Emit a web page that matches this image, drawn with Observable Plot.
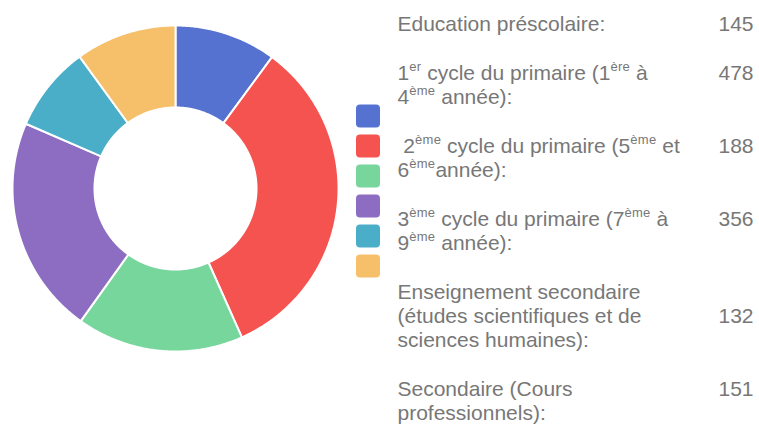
<!DOCTYPE html>
<html>
<head>
<meta charset="utf-8">
<script src="https://cdn.jsdelivr.net/npm/d3@7"></script>
<script src="https://cdn.jsdelivr.net/npm/@observablehq/plot@0.6"></script>
<style>
  html, body { margin: 0; padding: 0; background: #fff; }
  #wrap { position: relative; width: 759px; height: 425px; overflow: hidden;
          font-family: Arial, "Liberation Sans", Helvetica, sans-serif; }
  #donut { position: absolute; left: 0; top: 0; }
  #legend { position: absolute; left: 356px; top: 99.2px; }
  #table { position: absolute; left: 397.5px; top: 11.7px; color: #777;
           font-size: 21px; line-height: 24px; }
  .row { display: flex; margin-bottom: 25px; }
  .label { width: 321px; white-space: nowrap; }
  .value { white-space: nowrap; }
  .value.mid { align-self: center; }
  sup { font-size: 13px; line-height: 0; vertical-align: 9px; letter-spacing: 0.3px; }
  svg { display: block; }
</style>
</head>
<body>
<div id="wrap">
  <div id="donut"></div>
  <div id="legend"></div>
  <div id="table"></div>
</div>
<script>
// Categories (plain names) and their HTML labels as shown in the table
const categories = [
  "Education préscolaire",
  "1er cycle du primaire",
  "2ème cycle du primaire",
  "3ème cycle du primaire",
  "Enseignement secondaire",
  "Secondaire (Cours professionnels)"
];
const labelsHtml = [
  "Education préscolaire:",
  "1<sup>er</sup> cycle du primaire (1<sup>ère</sup> à<br>4<sup>ème</sup> année):",
  "&nbsp;2<sup>ème</sup> cycle du primaire (5<sup>ème</sup> et<br>6<sup>ème</sup>année):",
  "3<sup>ème</sup> cycle du primaire (7<sup>ème</sup> à<br>9<sup>ème</sup> année):",
  "Enseignement secondaire<br>(études scientifiques et de<br>sciences humaines):",
  "Secondaire (Cours<br>professionnels):"
];
// Values printed in the table
const tableValues = [145, 478, 188, 356, 132, 151];
// Slice sizes as drawn in the donut
const sliceValues = [145, 478, 238, 311, 122, 144];
const colors = ["#5572d1", "#f4534f", "#77d69b", "#8d6dc2", "#4aaec8", "#f6bf69"];

// ---- Donut ----
const pie = d3.pie().sort(null).value(d => d.value)(
  categories.map((c, i) => ({cat: c, value: sliceValues[i]}))
);
const R = 1.006, r0 = 0.5;
const pts = [];
pie.forEach(s => {
  const span = s.endAngle - s.startAngle;
  const n = Math.max(2, Math.ceil(span / (Math.PI / 360)));
  for (let k = 0; k <= n; k++) {
    const a = s.startAngle + span * k / n;
    pts.push({cat: s.data.cat, x: R * Math.sin(a), y: R * Math.cos(a)});
  }
  for (let k = n; k >= 0; k--) {
    const a = s.startAngle + span * k / n;
    pts.push({cat: s.data.cat, x: r0 * Math.sin(a), y: r0 * Math.cos(a)});
  }
});

const donut = Plot.plot({
  width: 350,
  height: 425,
  marginLeft: 0, marginRight: 0, marginTop: 13, marginBottom: 62,
  x: {domain: [-1.08, 1.08], axis: null},
  y: {domain: [-1.08, 1.08], axis: null},
  color: {domain: categories, range: colors},
  marks: [
    Plot.line(pts, {x: "x", y: "y", z: "cat", fill: "cat", stroke: "white",
                    strokeWidth: 2, curve: "linear-closed"})
  ]
});
document.getElementById("donut").appendChild(donut);

// ---- Legend squares ----
const legend = Plot.plot({
  width: 24,
  height: 184,
  margin: 0,
  y: {domain: categories, axis: null, padding: 0},
  color: {domain: categories, range: colors},
  marks: [
    Plot.cell(categories, {y: d => d, fill: d => d, rx: 4, insetTop: 3.5, insetBottom: 3.5})
  ]
});
document.getElementById("legend").appendChild(legend);

// ---- Table ----
const table = document.getElementById("table");
labelsHtml.forEach((h, i) => {
  const row = document.createElement("div");
  row.className = "row";
  const l = document.createElement("div");
  l.className = "label";
  l.innerHTML = h;
  const v = document.createElement("div");
  v.className = "value" + (i === 4 ? " mid" : "");
  v.textContent = tableValues[i];
  row.appendChild(l);
  row.appendChild(v);
  table.appendChild(row);
});
</script>
</body>
</html>
